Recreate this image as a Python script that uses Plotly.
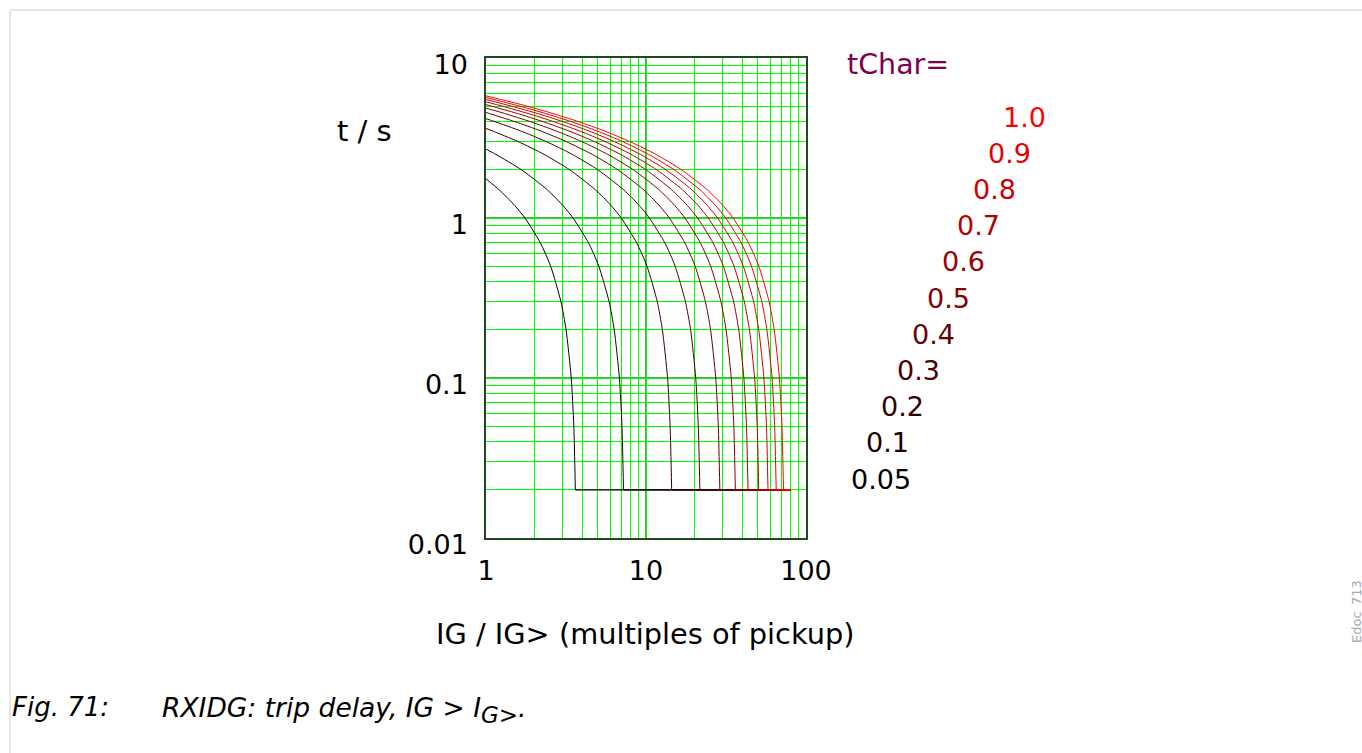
import plotly.graph_objects as go

# ---------------- data ----------------
tchar_labels = ["0.05", "0.1", "0.2", "0.3", "0.4", "0.5", "0.6", "0.7", "0.8", "0.9", "1.0"]

i_005 = [1.0, 1.209, 1.510, 1.751, 2.186, 2.535, 2.940, 3.166, 3.410, 3.539, 3.618]
t_005 = [1.756, 1.5, 1.2, 1.0, 0.7, 0.5, 0.3, 0.2, 0.1, 0.05, 0.02]

i_01 = [1.0, 1.152, 1.669, 2.417, 3.019, 3.501, 4.371, 5.070, 5.880, 6.332, 6.819, 7.077, 7.235]
t_01 = [2.692, 2.5, 2.0, 1.5, 1.2, 1.0, 0.7, 0.5, 0.3, 0.2, 0.1, 0.05, 0.02]

i_02 = [1.0, 1.099, 1.591, 2.304, 3.338, 4.834, 6.038, 7.002, 8.742, 10.14, 11.76, 12.66, 13.64, 14.15, 14.47]
t_02 = [3.627, 3.5, 3.0, 2.5, 2.0, 1.5, 1.2, 1.0, 0.7, 0.5, 0.3, 0.2, 0.1, 0.05, 0.02]

i_03 = [1.0, 1.138, 1.648, 2.387, 3.456, 5.007, 7.251, 9.057, 10.50, 13.11, 15.21, 17.64, 19.00, 20.46, 21.23, 21.71]
t_03 = [4.175, 4.0, 3.5, 3.0, 2.5, 2.0, 1.5, 1.2, 1.0, 0.7, 0.5, 0.3, 0.2, 0.1, 0.05, 0.02]

i_04 = [1.0, 1.048, 1.518, 2.198, 3.183, 4.608, 6.676, 9.668, 12.08, 14.00, 17.48, 20.28, 23.52, 25.33, 27.28, 28.31, 28.94]
t_04 = [4.563, 4.5, 4.0, 3.5, 3.0, 2.5, 2.0, 1.5, 1.2, 1.0, 0.7, 0.5, 0.3, 0.2, 0.1, 0.05, 0.02]

i_05 = [1.0, 1.310, 1.897, 2.747, 3.979, 5.760, 8.345, 12.09, 15.10, 17.51, 21.86, 25.35, 29.40, 31.66, 34.10, 35.39, 36.18]
t_05 = [4.864, 4.5, 4.0, 3.5, 3.0, 2.5, 2.0, 1.5, 1.2, 1.0, 0.7, 0.5, 0.3, 0.2, 0.1, 0.05, 0.02]

i_06 = [1.0, 1.085, 1.571, 2.276, 3.296, 4.774, 6.912, 10.01, 14.50, 18.11, 21.01, 26.23, 30.42, 35.28, 37.99, 40.91, 42.46, 43.41]
t_06 = [5.110, 5.0, 4.5, 4.0, 3.5, 3.0, 2.5, 2.0, 1.5, 1.2, 1.0, 0.7, 0.5, 0.3, 0.2, 0.1, 0.05, 0.02]

i_07 = [1.0, 1.266, 1.833, 2.656, 3.846, 5.570, 8.064, 11.68, 16.92, 21.13, 24.51, 30.60, 35.49, 41.16, 44.32, 47.73, 49.54, 50.65]
t_07 = [5.318, 5.0, 4.5, 4.0, 3.5, 3.0, 2.5, 2.0, 1.5, 1.2, 1.0, 0.7, 0.5, 0.3, 0.2, 0.1, 0.05, 0.02]

i_08 = [1.0, 1.447, 2.095, 3.035, 4.395, 6.366, 9.216, 13.35, 19.34, 24.15, 28.01, 34.97, 40.56, 47.04, 50.66, 54.55, 56.62, 57.88]
t_08 = [5.499, 5.0, 4.5, 4.0, 3.5, 3.0, 2.5, 2.0, 1.5, 1.2, 1.0, 0.7, 0.5, 0.3, 0.2, 0.1, 0.05, 0.02]

i_09 = [1.0, 1.124, 1.628, 2.357, 3.415, 4.945, 7.161, 10.37, 15.02, 21.75, 27.17, 31.51, 39.34, 45.63, 52.92, 56.99, 61.37, 63.69, 65.12]
t_09 = [5.658, 5.5, 5.0, 4.5, 4.0, 3.5, 3.0, 2.5, 2.0, 1.5, 1.2, 1.0, 0.7, 0.5, 0.3, 0.2, 0.1, 0.05, 0.02]

i_10 = [1.0, 1.249, 1.809, 2.619, 3.794, 5.494, 7.957, 11.52, 16.69, 24.17, 30.19, 35.01, 43.71, 50.70, 58.80, 63.32, 68.19, 70.77, 72.35]
t_10 = [5.800, 5.5, 5.0, 4.5, 4.0, 3.5, 3.0, 2.5, 2.0, 1.5, 1.2, 1.0, 0.7, 0.5, 0.3, 0.2, 0.1, 0.05, 0.02]

t_min = 0.02          # definite minimum trip time (floor)
floor_end = 80.0      # the floor line runs out to this current multiple

x_decades = [1, 10, 100]
x_decade_text = ["1", "10", "100"]
y_decades = [0.01, 0.1, 1, 10]
y_decade_text = ["0.01", "0.1", "1", "10"]

curves_i = [i_005, i_01, i_02, i_03, i_04, i_05, i_06, i_07, i_08, i_09, i_10]
curves_t = [t_005, t_01, t_02, t_03, t_04, t_05, t_06, t_07, t_08, t_09, t_10]

# ---------------- style ----------------
colors = ["#000000", "#1a0000", "#330000", "#4d0000", "#660000", "#800000",
          "#990000", "#b30000", "#cc0000", "#e60000", "#ff0000"]
FONT = "DejaVu Sans"
W, H = 1362, 753
L, R, T, B = 486, 806, 58, 538   # plot area in pixels
GRID_MINOR = "#00ff00"
GRID_MAJOR = "#1a8a1a"


def px(xp):
    return (xp - L) / (R - L)


def py(yp):
    return (B - yp) / (B - T)


fig = go.Figure()
for ci, ct, col in zip(curves_i, curves_t, colors):
    fig.add_trace(go.Scatter(x=ci, y=ct, mode="lines",
                             line=dict(color=col, width=1, shape="spline", smoothing=0.6),
                             hoverinfo="skip", showlegend=False))
    fig.add_trace(go.Scatter(x=[ci[-1], floor_end], y=[t_min, t_min], mode="lines",
                             line=dict(color=col, width=1.2),
                             hoverinfo="skip", showlegend=False))


def grid_ticks(decades, labels):
    vals, txt = [], []
    for d, lab in zip(decades, labels):
        vals.append(d)
        txt.append(lab)
        if d != decades[-1]:
            for m in range(2, 10):
                vals.append(m * d)
                txt.append("")
    return vals, txt


xv, xt = grid_ticks(x_decades, x_decade_text)
yv, yt = grid_ticks(y_decades, y_decade_text)

axis_common = dict(
    type="log", showline=True, linecolor="#1f4a1f", linewidth=1.5, mirror=True,
    showgrid=True, gridcolor=GRID_MINOR, gridwidth=1, zeroline=False,
    ticks="", tickfont=dict(family=FONT, size=27, color="#000000"),
)
fig.update_xaxes(range=[0, 2], tickmode="array", tickvals=xv, ticktext=xt,
                 ticklabelstandoff=8, **axis_common)
fig.update_yaxes(range=[-2, 1], tickmode="array", tickvals=yv, ticktext=yt,
                 ticklabelstandoff=11, ticklabelshift=7, **axis_common)

# darker decade grid lines, drawn between the grid and the curves
shapes = []
for d in x_decades[1:-1]:
    shapes.append(dict(type="line", xref="x", yref="paper", x0=d, x1=d, y0=0, y1=1,
                       layer="between", line=dict(color=GRID_MAJOR, width=1.5)))
for d in y_decades[1:-1]:
    shapes.append(dict(type="line", xref="paper", yref="y", x0=0, x1=1, y0=d, y1=d,
                       layer="between", line=dict(color=GRID_MAJOR, width=1.5)))
shapes += [
    dict(type="line", xref="paper", yref="paper", x0=px(10), x1=px(W), y0=py(10), y1=py(10),
         line=dict(color="#e6e6e6", width=2)),
    dict(type="line", xref="paper", yref="paper", x0=px(10), x1=px(10), y0=py(10), y1=py(H),
         line=dict(color="#e6e6e6", width=2)),
]

annotations = [
    dict(text="t / s", x=px(335), y=py(131), xanchor="left", yanchor="middle",
         font=dict(size=29, color="#000000")),
    dict(text="IG / IG> (multiples of pickup)", x=px(645), y=py(634), xanchor="center",
         yanchor="middle", font=dict(size=28.8, color="#000000")),
    dict(text="tChar=", x=px(845), y=py(65), xanchor="left", yanchor="middle",
         font=dict(size=28.5, color="#800050")),
    dict(text="<i>Fig. 71:</i>", x=px(10), y=py(707), xanchor="left", yanchor="middle",
         font=dict(size=26, color="#000000")),
    dict(text="<i>RXIDG: trip delay, IG > I<sub><span style=\"font-size:23px\">G></span></sub>.</i>",
         x=px(160), y=py(710), xanchor="left", yanchor="middle",
         font=dict(size=26.5, color="#000000")),
    dict(text="Edoc_713", x=px(1356), y=py(612), xanchor="center", yanchor="middle",
         textangle=-90, font=dict(size=13, color="#aaaaaa")),
]
for k, (lab, col) in enumerate(zip(tchar_labels, colors)):
    annotations.append(dict(text=lab, x=px(849 + 15.2 * k), y=py(479 - 36.2 * k),
                            xanchor="left", yanchor="middle",
                            font=dict(size=27, color=col)))
for a in annotations:
    a.update(xref="paper", yref="paper", showarrow=False)
    a["font"]["family"] = FONT

fig.update_layout(
    width=W, height=H,
    margin=dict(l=L, r=W - R, t=T, b=H - B, pad=0),
    paper_bgcolor="#ffffff", plot_bgcolor="#ffffff",
    font=dict(family=FONT, size=27, color="#000000"),
    annotations=annotations, shapes=shapes, showlegend=False,
)

fig.write_html("out.html", config={"displayModeBar": False})

# remove the browser's default page margin so the figure sits at (0, 0)
with open("out.html", "r", encoding="utf-8") as f:
    html = f.read()
html = html.replace("<body>", '<body style="margin:0;padding:0;overflow:hidden">', 1)
with open("out.html", "w", encoding="utf-8") as f:
    f.write(html)
